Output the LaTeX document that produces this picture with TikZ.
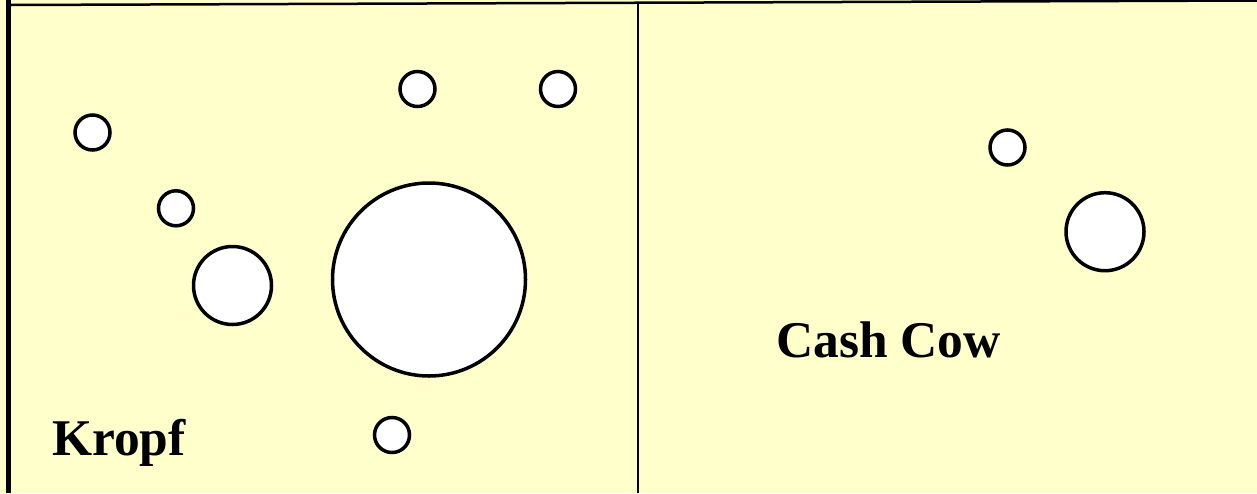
\documentclass[tikz,border=0pt]{standalone}
\usepackage{fontspec}
\setmainfont{Liberation Serif}
\usepackage{xcolor}
\definecolor{paper}{HTML}{FFFFCC}
\definecolor{ink}{HTML}{000000}

\begin{document}
\begin{tikzpicture}[
  x=1pt, y=-1pt,
  blob/.style={circle, draw=ink, line width=3.5pt, fill=white, inner sep=0pt},
  small/.style={blob, minimum size=35pt},
  mid/.style={blob, minimum size=78pt},
  big/.style={blob, minimum size=193pt},
  quadlabel/.style={font=\fontsize{51.5}{52}\selectfont\bfseries, text=ink, inner sep=0pt, anchor=base west},
]

\fill[paper] (0,0) rectangle (1257,493);
\useasboundingbox (0,0) rectangle (1257,493);

% frame
\draw[ink, line width=5.5pt] (8.5,0) -- (8.5,493);
\draw[ink, line width=2.5pt] (11,5) -- (1257,0.5);
\draw[ink, line width=2.5pt] (638,3) -- (638,493);

% left quadrant
\node[small] (k1) at (92.5,132.5) {};
\node[small] (k2) at (176,208.3) {};
\node[small] (k3) at (417.5,89) {};
\node[small] (k4) at (558,89) {};
\node[small] (k5) at (392,435) {};
\node[mid] (k6) at (232.5,285.5) {};
\node[big] (k7) at (429,279.5) {};
\node[quadlabel] (kropf) at (52,455) {Kropf};

% right quadrant
\node[small] (c1) at (1007.5,147.5) {};
\node[mid] (c2) at (1105,231.7) {};
\node[quadlabel] (cash) at (776,357) {Cash Cow};

\end{tikzpicture}
\end{document}
